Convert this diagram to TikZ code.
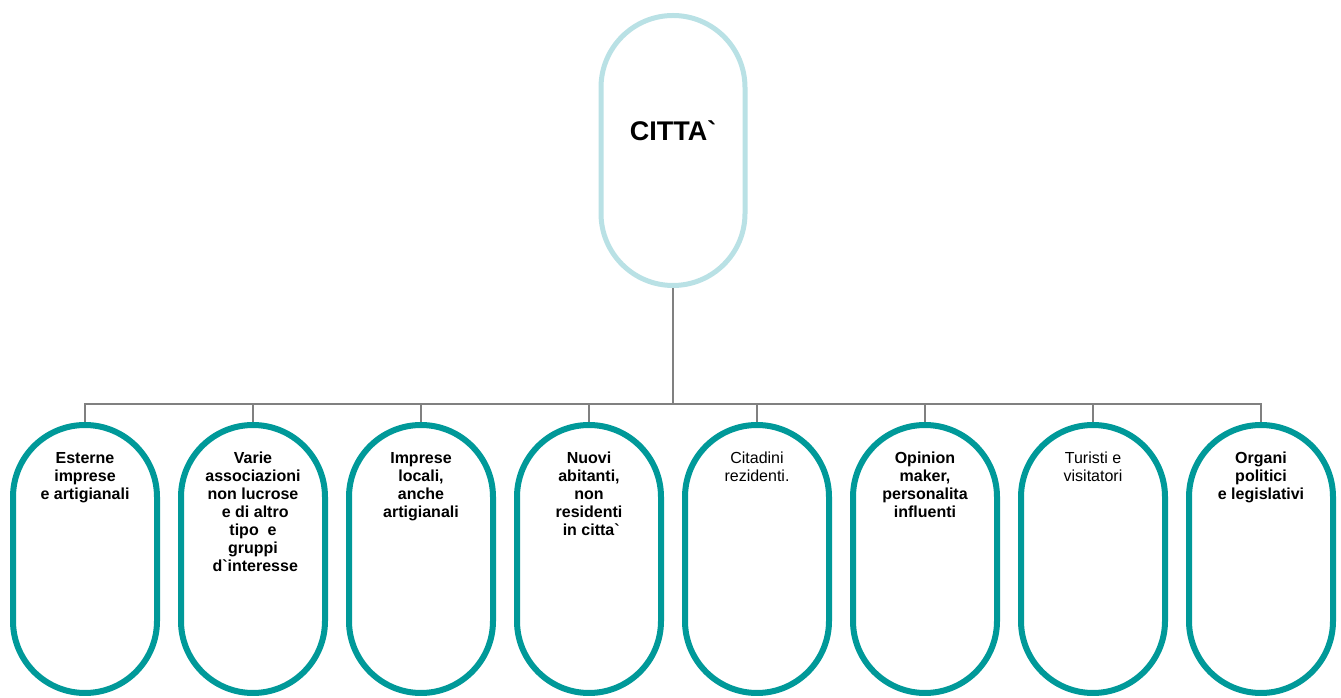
\documentclass[tikz,border=0pt]{standalone}
\usepackage{fontspec}
\newfontfamily\boxfont{Liberation Sans}
\usepackage{tikz}
\usetikzlibrary{positioning}
\definecolor{cityblue}{RGB}{185,225,229}
\definecolor{groupteal}{RGB}{0,153,153}
\definecolor{linkgray}{RGB}{128,128,128}

\begin{document}
\begin{tikzpicture}[
    x=1pt, y=1pt,
    city box/.style={
        rectangle, draw=cityblue, fill=white, line width=5pt,
        rounded corners=72pt, minimum width=144pt, minimum height=270pt
    },
    group box/.style={
        rectangle, draw=groupteal, fill=white, line width=6pt,
        rounded corners=72pt, minimum width=144pt, minimum height=268pt
    },
    plain text/.style={
        font=\boxfont\fontsize{16}{18}\selectfont,
        align=center, inner sep=0pt, anchor=north
    },
    bold text/.style={
        plain text, font=\boxfont\bfseries\fontsize{16}{18}\selectfont
    },
    link/.style={draw=linkgray, line width=2pt}
  ]

  \useasboundingbox (0,0) rectangle (1341,698);

  \node[city box] (city) at (673,547.5) {};
  \node[font=\boxfont\bfseries\fontsize{27}{30}\selectfont]
    (city_txt) at ([yshift=20pt]city.center) {CITTA`};

  \coordinate (bus) at (673,294);

  \node[group box] (grp_1) at (85,139) {};
  \node[group box] (grp_2) at (253,139) {};
  \node[group box] (grp_3) at (421,139) {};
  \node[group box] (grp_4) at (589,139) {};
  \node[group box] (grp_5) at (757,139) {};
  \node[group box] (grp_6) at (925,139) {};
  \node[group box] (grp_7) at (1093,139) {};
  \node[group box] (grp_8) at (1261,139) {};

  \node[bold text] (txt_1) at ([yshift=-30pt]grp_1.north)
    {Esterne\\imprese\\e artigianali};
  \node[bold text] (txt_2) at ([yshift=-30pt]grp_2.north)
    {Varie\\associazioni\\non lucrose\\\ e di altro\\tipo\ \ e\\gruppi\\\ d`interesse};
  \node[bold text] (txt_3) at ([yshift=-30pt]grp_3.north)
    {Imprese\\locali,\\anche\\artigianali};
  \node[bold text] (txt_4) at ([yshift=-30pt]grp_4.north)
    {Nuovi\\abitanti,\\non\\residenti\\\ in citta`};
  \node[plain text] (txt_5) at ([yshift=-30pt]grp_5.north)
    {Citadini\\rezidenti.};
  \node[bold text] (txt_6) at ([yshift=-30pt]grp_6.north)
    {Opinion\\maker,\\personalita\\influenti};
  \node[plain text] (txt_7) at ([yshift=-30pt]grp_7.north)
    {Turisti e\\visitatori};
  \node[bold text] (txt_8) at ([yshift=-30pt]grp_8.north)
    {Organi\\politici\\e legislativi};

  \draw[link, line width=2.6pt] (city.south) -- (bus);
  \draw[link] (bus) -| (grp_1.north);
  \draw[link] (bus) -| (grp_2.north);
  \draw[link] (bus) -| (grp_3.north);
  \draw[link] (bus) -| (grp_4.north);
  \draw[link] (bus) -| (grp_5.north);
  \draw[link] (bus) -| (grp_6.north);
  \draw[link] (bus) -| (grp_7.north);
  \draw[link] (bus) -| (grp_8.north);

\end{tikzpicture}
\end{document}
